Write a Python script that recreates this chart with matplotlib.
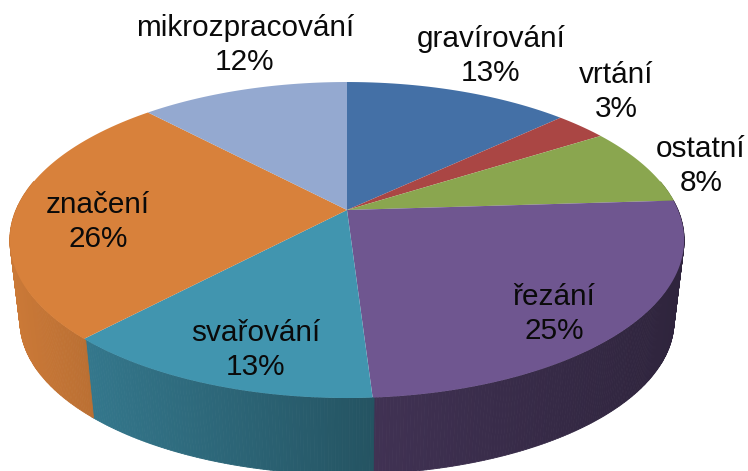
import numpy as np
import matplotlib
matplotlib.use("Agg")
import matplotlib.pyplot as plt
from matplotlib.path import Path
from matplotlib.transforms import Transform, Affine2D

labels = ["gravírování", "vrtání", "ostatní", "řezání", "svařování", "značení", "mikrozpracování"]
values = [13, 3, 8, 25, 13, 26, 12]
colors = ["#4470A6", "#AA4644", "#8AA64F", "#6F5690", "#4195AF", "#D8813B", "#94A9D0"]
label_xy = [(491, 56), (616, 92), (701, 166), (554, 314), (256, 350), (98, 222), (245, 45)]

W, H = 748, 471
APEX = (347, 210)
RX, RY, K = 331.0, 152.3, 0.19
WALL_SCALE, WALL_CY = 0.97, 292.0


class Tilt(Transform):
    """Projects the flat unit-circle pie onto the tilted disc, in pixel space."""
    input_dims = output_dims = 2
    is_affine = False

    def __init__(self, cx, cy, scale=1.0):
        super().__init__()
        self.cx, self.cy, self.scale = cx, cy, scale

    def transform_non_affine(self, xy):
        xy = np.asarray(xy, float)
        w = 1 + K * xy[:, 1]
        return np.column_stack([self.cx + self.scale * RX * xy[:, 0] / w,
                                self.cy - self.scale * RY * xy[:, 1] / w])

    def transform_path_non_affine(self, path):
        big = path.transformed(Affine2D().scale(2000))
        polys = big.to_polygons(closed_only=False)
        return Path(self.transform_non_affine(np.vstack(polys) / 2000))


fig = plt.figure(figsize=(W / 100, H / 100), dpi=100)
ax = fig.add_axes([0, 0, 1, 1])
wedges, _ = ax.pie(values, colors=colors, startangle=90, counterclock=False, radius=1)

top = Tilt(*APEX)
bottom = Tilt(APEX[0], WALL_CY, WALL_SCALE)

# side wall, shaded from left to right
for wedge, col in zip(wedges, colors):
    t = np.radians(np.arange(wedge.theta1, wedge.theta2 + 0.5, 0.5))
    t = t[np.sin(t) < 0.2]
    if len(t) < 2:
        continue
    unit = np.column_stack([np.cos(t), np.sin(t)])
    up, lo = top.transform_non_affine(unit), bottom.transform_non_affine(unit)
    base = np.array(matplotlib.colors.to_rgb(col))
    for i in range(len(t) - 1):
        xm = up[i, 0]
        f = np.interp(xm, [10, 90], [0.94, 0.86])
        if col == "#4195AF":
            f = np.interp(xm, [85, 372], [0.80, 0.56])
        if col == "#6F5690":
            f = np.interp(xm, [372, 685], [0.58, 0.42])
        quad = np.vstack([up[i], up[i + 1], lo[i + 1], lo[i]])
        ax.fill(quad[:, 0], quad[:, 1], color=base * f, lw=0.6, zorder=1)

for wedge in wedges:
    wedge.set_transform(top + ax.transData)
    wedge.set_edgecolor("none")
    wedge.set_zorder(2)

ax.set_aspect("auto")
ax.set_xlim(0, W)
ax.set_ylim(H, 0)
ax.axis("off")

for name, v, (x, y) in zip(labels, values, label_xy):
    ax.text(x, y, f"{name}\n{v}%", ha="center", va="center", zorder=3, color="#0a0a0a",
            family="Liberation Sans", fontsize=21.4, linespacing=1.24)

fig.savefig("out.png", dpi=100)
